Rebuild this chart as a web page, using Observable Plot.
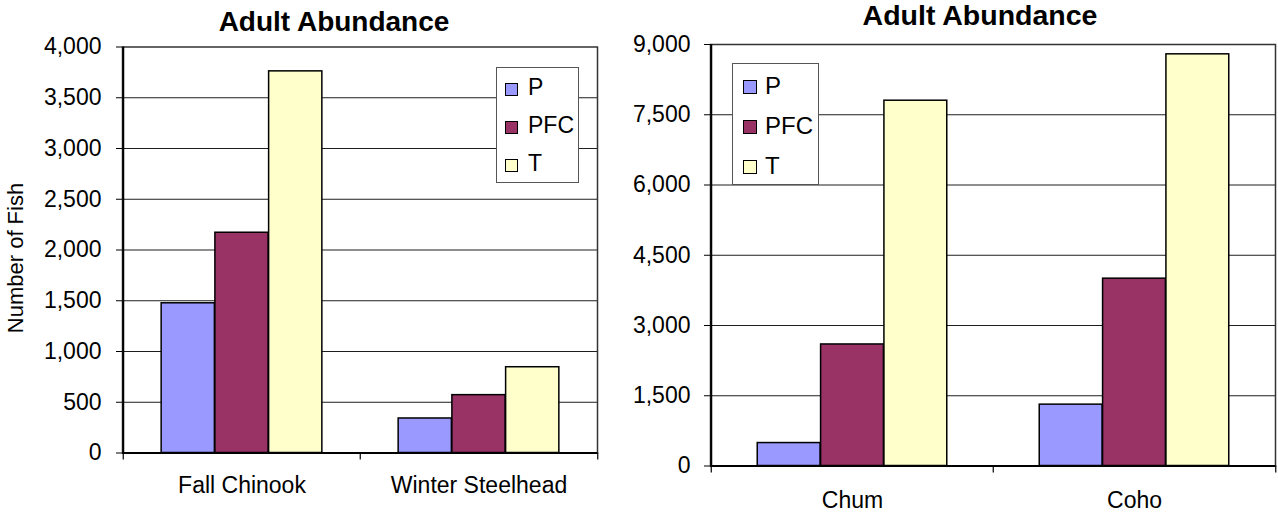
<!DOCTYPE html>
<html>
<head>
<meta charset="utf-8">
<script src="https://cdn.jsdelivr.net/npm/d3@7"></script>
<script src="https://cdn.jsdelivr.net/npm/@observablehq/plot@0.6"></script>
<style>
  body { margin: 0; background: #fff; }
  #wrap { position: relative; width: 1278px; height: 514px; overflow: hidden;
          font-family: "Liberation Sans", Arial, sans-serif; color: #000; }
  .panel { position: absolute; top: 0; }
  .title { position: absolute; font-weight: bold; white-space: nowrap; line-height: 1;
           transform: translateX(-50%); }
  .ylab { position: absolute; white-space: nowrap; line-height: 1;
          transform: translate(-50%, -50%) rotate(-90deg); }
  .legend { position: absolute; box-sizing: border-box; border: 1px solid #555; background: #fff; }
  .legend .sw { position: absolute; box-sizing: border-box; border: 1.5px solid #000; }
  .legend .lt { position: absolute; line-height: 1; white-space: nowrap; }
</style>
</head>
<body>
<div id="wrap"></div>
<script>
// Series shared by both panels
const series = ["P", "PFC", "T"];
const seriesColors = ["#9999ff", "#993366", "#ffffcc"];

// Left panel: Fall Chinook / Winter Steelhead
const leftCategories = ["Fall Chinook", "Winter Steelhead"];
const leftP = [1475, 340];
const leftPFC = [2170, 570];
const leftT = [3760, 845];
const leftTicks = [0, 500, 1000, 1500, 2000, 2500, 3000, 3500, 4000];

// Right panel: Chum / Coho
const rightCategories = ["Chum", "Coho"];
const rightP = [490, 1310];
const rightPFC = [2595, 4000];
const rightT = [7800, 8790];
const rightTicks = [0, 1500, 3000, 4500, 6000, 7500, 9000];

const chartTitle = "Adult Abundance";
const yAxisLabel = "Number of Fish";

const wrap = document.getElementById("wrap");
const fmt = d3.format(",");

function panel(cfg) {
  const {categories, values, ticks, left, width, height, margin, barPad, fontSize, xPad, yPad} = cfg;
  const rows = categories.flatMap((c, i) =>
    series.map((s, j) => ({category: c, series: s, value: values[j][i]})));
  const frameW = width - margin.left - margin.right;
  const step = frameW / categories.length;
  const barW = step / (series.length + 2 * barPad);
  const pad = barPad * barW;

  // one bar mark per series, placed side by side inside each category band
  const bars = series.map((s, j) => Plot.barY(rows.filter(r => r.series === s), {
    x: "category", y: "value", fill: "series",
    stroke: "#000", strokeWidth: 1.5,
    insetLeft: pad + j * barW,
    insetRight: step - pad - (j + 1) * barW
  }));

  const last = categories[categories.length - 1];
  const chart = Plot.plot({
    width, height,
    marginLeft: margin.left, marginRight: margin.right,
    marginTop: margin.top, marginBottom: margin.bottom,
    style: {fontFamily: '"Liberation Sans", Arial, sans-serif', fontSize: fontSize + "px",
            color: "#000", background: "transparent", overflow: "visible"},
    x: {domain: categories, padding: 0, axis: null},
    y: {domain: [0, ticks[ticks.length - 1]], axis: null},
    color: {domain: series, range: seriesColors},
    marks: [
      Plot.ruleY(ticks.slice(1, -1), {stroke: "#1e1e1e", strokeWidth: 1}),
      ...bars,
      Plot.frame({stroke: "#333", strokeWidth: 1.5}),
      Plot.ruleY([0], {stroke: "#000", strokeWidth: 2}),
      Plot.ruleX([categories[0]], {dx: -step / 2, stroke: "#000", strokeWidth: 2}),
      // category boundary ticks below the baseline
      Plot.ruleX(categories, {dx: -step / 2, y1: 0, y2: 0, insetBottom: -7, stroke: "#000", strokeWidth: 1.2}),
      Plot.ruleX([last], {dx: step / 2, y1: 0, y2: 0, insetBottom: -7, stroke: "#000", strokeWidth: 1.2}),
      Plot.axisY({ticks, tickSize: 6, tickPadding: yPad, tickFormat: fmt, fontSize, label: null, stroke: "#000"}),
      Plot.axisX({tickSize: 0, tickPadding: xPad, fontSize, label: null})
    ]
  });
  chart.classList.add("panel");
  chart.style.left = left + "px";
  wrap.appendChild(chart);
}

function addTitle(text, cx, baseline, fs) {
  const d = document.createElement("div");
  d.className = "title";
  d.textContent = text;
  d.style.fontSize = fs + "px";
  d.style.left = cx + "px";
  d.style.top = (baseline - 0.8465 * fs) + "px";
  wrap.appendChild(d);
}

function addLegend(box, sw, textX, baseline, spacing, fs) {
  const lg = document.createElement("div");
  lg.className = "legend";
  Object.assign(lg.style, {left: box.x + "px", top: box.y + "px", width: box.w + "px", height: box.h + "px"});
  series.forEach((s, j) => {
    const q = document.createElement("div");
    q.className = "sw";
    Object.assign(q.style, {left: sw.x + "px", top: (sw.y + j * spacing) + "px",
      width: sw.size + "px", height: sw.size + "px", background: seriesColors[j]});
    lg.appendChild(q);
    const t = document.createElement("div");
    t.className = "lt";
    t.textContent = s;
    Object.assign(t.style, {left: textX + "px", top: (baseline + j * spacing - 0.8465 * fs) + "px",
      fontSize: fs + "px"});
    lg.appendChild(t);
  });
  wrap.appendChild(lg);
}

panel({
  categories: leftCategories, values: [leftP, leftPFC, leftT], ticks: leftTicks,
  left: 0, width: 640, height: 514,
  margin: {left: 122, right: 43, top: 46.5, bottom: 61.5},
  barPad: 0.71, fontSize: 23, xPad: 24, yPad: 15
});
panel({
  categories: rightCategories, values: [rightP, rightPFC, rightT], ticks: rightTicks,
  left: 640, width: 638, height: 514,
  margin: {left: 70, right: 3, top: 44, bottom: 48.5},
  barPad: 0.73, fontSize: 23, xPad: 26, yPad: 14
});

addTitle(chartTitle, 334, 32, 28);
addTitle(chartTitle, 980, 25, 28.5);

const yl = document.createElement("div");
yl.className = "ylab";
yl.textContent = yAxisLabel;
Object.assign(yl.style, {left: "16px", top: "258px", fontSize: "22px"});
wrap.appendChild(yl);

addLegend({x: 496, y: 67, w: 83, h: 116}, {x: 8, y: 15, size: 13}, 31, 27, 38, 23);
addLegend({x: 732, y: 63, w: 87, h: 122}, {x: 10, y: 16, size: 14}, 32, 30, 40, 24);
</script>
</body>
</html>
